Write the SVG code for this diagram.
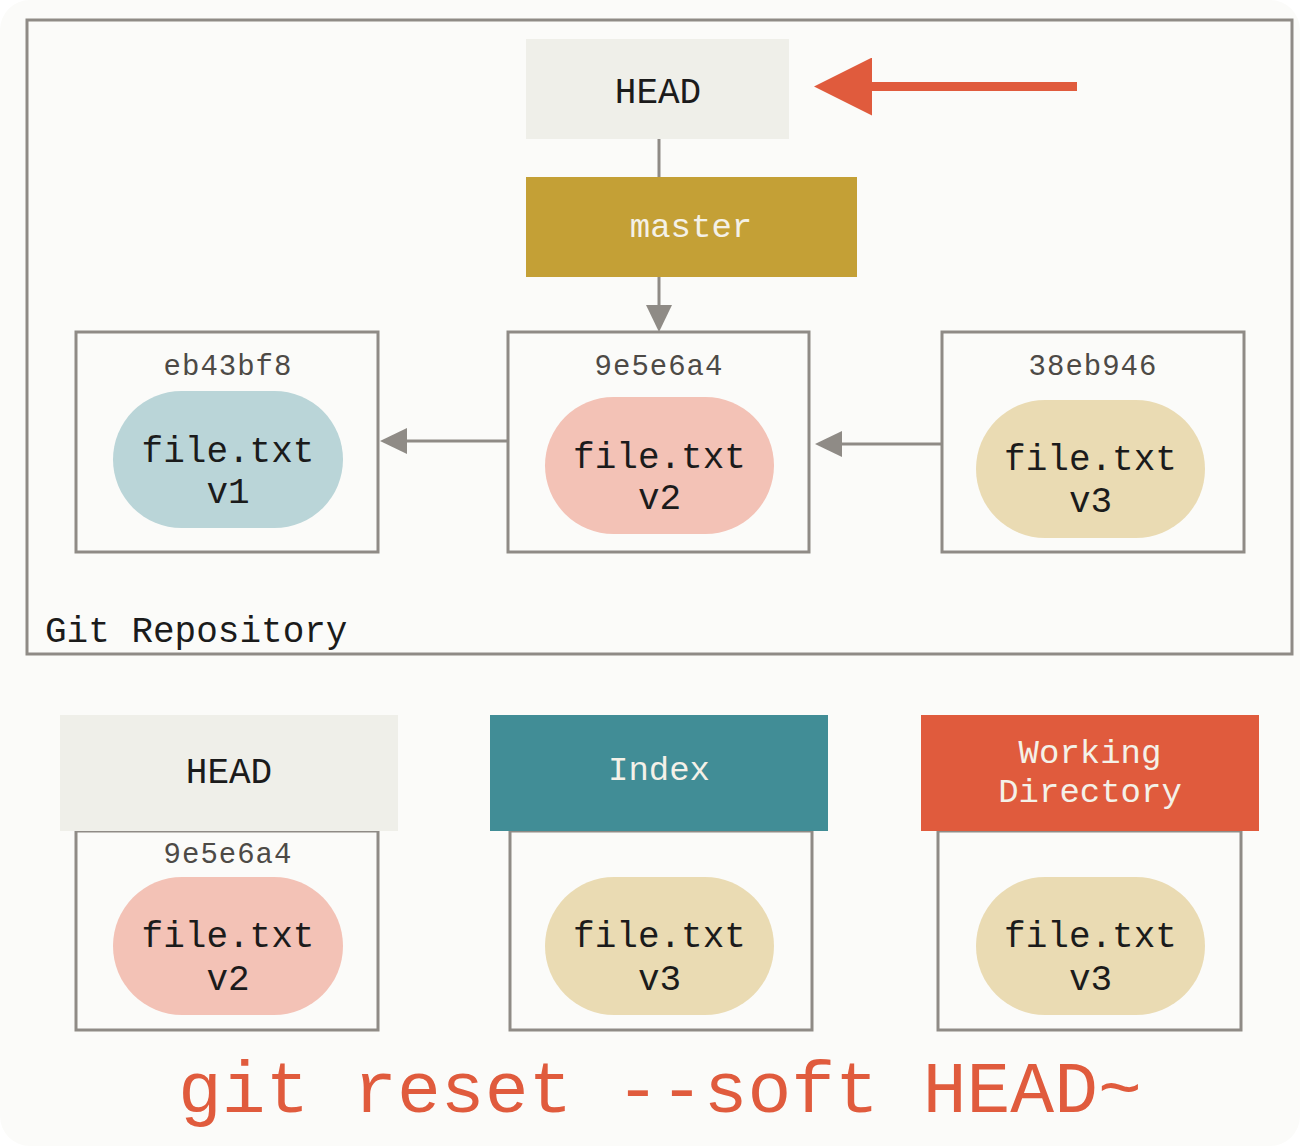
<svg xmlns="http://www.w3.org/2000/svg" width="1300" height="1146" viewBox="0 0 1300 1146">
  <defs>
    <marker id="gray-arrow" viewBox="0 0 27 26" refX="0" refY="13" markerWidth="27" markerHeight="26" markerUnits="userSpaceOnUse" orient="auto">
      <path d="M0,0 L27,13 L0,26 z" fill="#8f8b86"/>
    </marker>
    <marker id="red-arrow" viewBox="0 0 58 58" refX="0" refY="29" markerWidth="58" markerHeight="58" markerUnits="userSpaceOnUse" orient="auto">
      <path d="M0,0 L58,29 L0,58 z" fill="#e05b3d"/>
    </marker>
  </defs>
  <style>
    .frame { fill: none; stroke: #8f8b86; stroke-width: 3; }
    .box { fill: #fbfbf9; stroke: #8f8b86; stroke-width: 3; }
    .head { fill: #efefe9; }
    .mono { font-family: "Liberation Mono", "DejaVu Sans Mono", monospace; text-anchor: middle; }
    .lbl { font-size: 36px; fill: #1b1b1b; }
    .lbl-w { font-size: 34px; fill: #f4f1e8; }
    .hash { font-size: 29px; fill: #4d4a46; letter-spacing: 1px; }
    .file { font-size: 36px; fill: #1b1b1b; }
    .conn { stroke: #8f8b86; stroke-width: 3; fill: none; }
  </style>

  <rect x="0" y="0" width="1300" height="1146" fill="#ffffff"/>
  <rect x="0" y="0" width="1300" height="1146" rx="30" ry="30" fill="#fbfbf9"/>

  <g id="git-repository">
    <rect class="frame" x="27" y="20" width="1265" height="634"/>
    <text class="mono lbl" x="45" y="642" style="text-anchor:start">Git Repository</text>
  </g>

  <g id="head-top">
    <rect class="head" x="526" y="39" width="263" height="100"/>
    <text class="mono lbl" x="658" y="103">HEAD</text>
  </g>

  <g id="master">
    <rect x="526" y="177" width="331" height="100" fill="#c4a036"/>
    <text class="mono lbl-w" x="691" y="237">master</text>
  </g>

  <g id="commit-eb43bf8">
    <rect class="box" x="76" y="332" width="302" height="220"/>
    <text class="mono hash" x="228" y="375">eb43bf8</text>
    <rect x="113" y="391" width="230" height="137" rx="68.5" ry="68.5" fill="#bad5d8"/>
    <text class="mono file" x="228" y="462">file.txt</text>
    <text class="mono file" x="228" y="503">v1</text>
  </g>

  <g id="commit-9e5e6a4">
    <rect class="box" x="508" y="332" width="301" height="220"/>
    <text class="mono hash" x="659" y="375">9e5e6a4</text>
    <rect x="545" y="397" width="229" height="137" rx="68.5" ry="68.5" fill="#f3c2b6"/>
    <text class="mono file" x="659.5" y="468">file.txt</text>
    <text class="mono file" x="659.5" y="509">v2</text>
  </g>

  <g id="commit-38eb946">
    <rect class="box" x="942" y="332" width="302" height="220"/>
    <text class="mono hash" x="1093" y="375">38eb946</text>
    <rect x="976" y="400" width="229" height="138" rx="69" ry="69" fill="#eadbb3"/>
    <text class="mono file" x="1090.5" y="470">file.txt</text>
    <text class="mono file" x="1090.5" y="512">v3</text>
  </g>

  <g id="tree-head">
    <rect class="box" x="76" y="831" width="302" height="199"/>
    <rect class="head" x="60" y="715" width="338" height="116"/>
    <text class="mono lbl" x="229" y="783">HEAD</text>
    <text class="mono hash" x="228" y="863">9e5e6a4</text>
    <rect x="113" y="877" width="230" height="138" rx="69" ry="69" fill="#f3c2b6"/>
    <text class="mono file" x="228" y="947">file.txt</text>
    <text class="mono file" x="228" y="990">v2</text>
  </g>

  <g id="tree-index">
    <rect class="box" x="510" y="831" width="302" height="199"/>
    <rect x="490" y="715" width="338" height="116" fill="#418d96"/>
    <text class="mono lbl-w" x="659" y="780">Index</text>
    <rect x="545" y="877" width="229" height="138" rx="69" ry="69" fill="#eadbb3"/>
    <text class="mono file" x="659.5" y="947">file.txt</text>
    <text class="mono file" x="659.5" y="990">v3</text>
  </g>

  <g id="tree-working-directory">
    <rect class="box" x="938" y="831" width="303" height="199"/>
    <rect x="921" y="715" width="338" height="116" fill="#e05b3d"/>
    <text class="mono lbl-w" x="1090" y="763">Working</text>
    <text class="mono lbl-w" x="1090" y="802">Directory</text>
    <rect x="976" y="877" width="229" height="138" rx="69" ry="69" fill="#eadbb3"/>
    <text class="mono file" x="1090.5" y="947">file.txt</text>
    <text class="mono file" x="1090.5" y="990">v3</text>
  </g>

  <g id="connectors">
    <line class="conn" x1="659" y1="139" x2="659" y2="177"/>
    <line class="conn" x1="659" y1="277" x2="659" y2="305" marker-end="url(#gray-arrow)"/>
    <line class="conn" x1="508" y1="441" x2="407" y2="441" marker-end="url(#gray-arrow)"/>
    <line class="conn" x1="942" y1="444" x2="842" y2="444" marker-end="url(#gray-arrow)"/>
    <line x1="1077" y1="86.5" x2="872" y2="86.5" stroke="#e05b3d" stroke-width="9" marker-end="url(#red-arrow)"/>
  </g>

  <g id="command">
    <text x="178" y="1112" font-family="Liberation Mono, DejaVu Sans Mono, monospace" font-size="73" fill="#e05b3d">git reset --soft HEAD~</text>
  </g>
</svg>
